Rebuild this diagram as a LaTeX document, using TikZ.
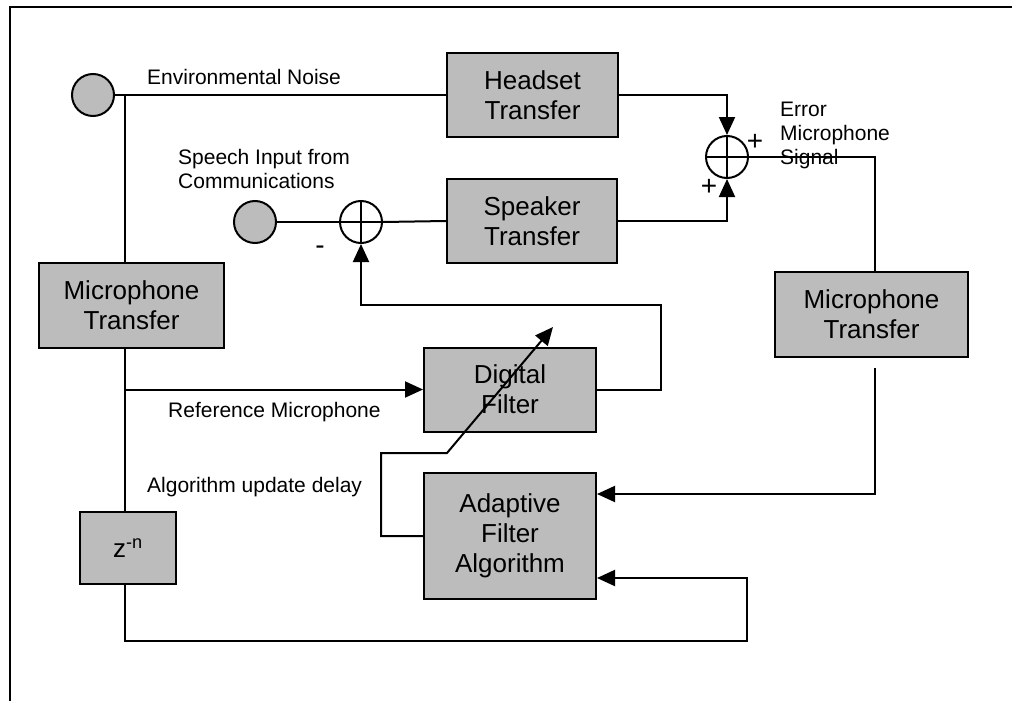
\documentclass[tikz,border=0pt]{standalone}
\usepackage{fontspec}
\setmainfont{Liberation Sans}
\usetikzlibrary{arrows.meta,calc}
\definecolor{blockgray}{RGB}{188,188,188}
\tikzset{
  wire/.style={line width=2pt, line join=miter},
  arr/.style={wire, -{Triangle[length=18pt,width=16pt]}},
  block/.style={draw, line width=2pt, fill=blockgray, align=center,
    inner sep=0pt, font=\fontsize{26}{30}\selectfont},
  source/.style={circle, draw, line width=2pt, fill=blockgray,
    minimum size=42pt, inner sep=0pt},
  summer/.style={circle, draw, line width=2pt, fill=white,
    minimum size=42pt, inner sep=0pt},
  lbl/.style={font=\fontsize{21}{24}\selectfont, inner sep=0pt, align=left},
  sign/.style={font=\fontsize{28}{28}\selectfont, inner sep=0pt},
}
\begin{document}
\begin{tikzpicture}[x=1pt,y=-1pt]
\useasboundingbox (0,0) rectangle (1012,701);
% outer frame
\draw[line width=2pt] (10,701) -- (10,7) -- (1012,7);

% blocks
\node[block, minimum width=171pt, minimum height=84pt] (head) at (532.5,95) {Headset\\Transfer};
\node[block, minimum width=170pt, minimum height=84pt] (spk) at (532,221) {Speaker\\Transfer};
\node[block, minimum width=185pt, minimum height=85pt] (micL) at (131.5,305) {Microphone\\Transfer};
\node[block, minimum width=193pt, minimum height=85pt] (micR) at (871.5,314) {Microphone\\Transfer};
\node[block, minimum width=172pt, minimum height=84pt] (dig) at (510,389.5) {Digital\\Filter};
\node[block, minimum width=172pt, minimum height=126pt] (adf) at (510,536) {Adaptive\\Filter\\Algorithm};
\node[block, minimum width=96pt, minimum height=72pt] (zn) at (128,548) {z\textsuperscript{-n}};

% sources and summing junctions
\node[source] (env) at (93,95) {};
\node[source] (sp) at (255,222) {};
\node[summer] (sum1) at (361,222) {};
\node[summer] (sum2) at (727,157) {};
\foreach \s in {sum1,sum2} {
  \draw[wire] (\s.north) -- (\s.south);
  \draw[wire] (\s.west) -- (\s.east);
}

% helper points
\coordinate (j1) at (125,95);
\coordinate (j2) at (125,389.5);
\coordinate (fb) at (661,305);
\coordinate (mr) at (875,368);
\coordinate (lp) at (747,641);
\coordinate (d1) at (381,453);
\coordinate (d2) at (447,453);
\coordinate (tip) at (553,327);

% noise path
\draw[wire] (env.east) -- (head.west);
\draw[wire] (j1) -- (micL.north -| j1);
\draw[arr] (head.east) -| (sum2.north);
% speech path
\draw[wire] (sp.east) -- (sum1.west);
\draw[wire] (sum1.east) -- (spk.west);
\draw[arr] (spk.east) -| (sum2.south);
% error microphone
\draw[wire] (sum2.east) -| ($(micR.north)+(3.5,0)$);
\draw[arr] (mr) |- ($(adf.east)+(0,-42)$);
% reference microphone
\draw[wire] (micL.south -| j1) -- (zn.north -| j1);
\draw[arr] (j2) -- (dig.west);
% anti-noise feedback
\draw[arr] (dig.east) -| (fb) -| (sum1.south);
% delayed reference
\draw[arr] (zn.south -| j1) |- (lp) |- ($(adf.east)+(0,42)$);
% coefficient update
\draw[arr] (adf.west) -| (d1) -- (d2) -- (tip);

% labels
\node[lbl, anchor=west] (tenv) at (147,77) {Environmental Noise};
\node[lbl, anchor=west] (tsp) at (178,169) {Speech Input from\\Communications};
\node[lbl, anchor=west] (terr) at (780,135) {Error\\Microphone\\Signal};
\node[lbl, anchor=west] (tref) at (168,412) {Reference Microphone};
\node[lbl, anchor=west] (talg) at (147,487) {Algorithm update delay};
\node[sign] (p1) at (755,142) {+};
\node[sign] (p2) at (709,187) {+};
\node[sign] (m1) at (320,250) {-};
\end{tikzpicture}
\end{document}
